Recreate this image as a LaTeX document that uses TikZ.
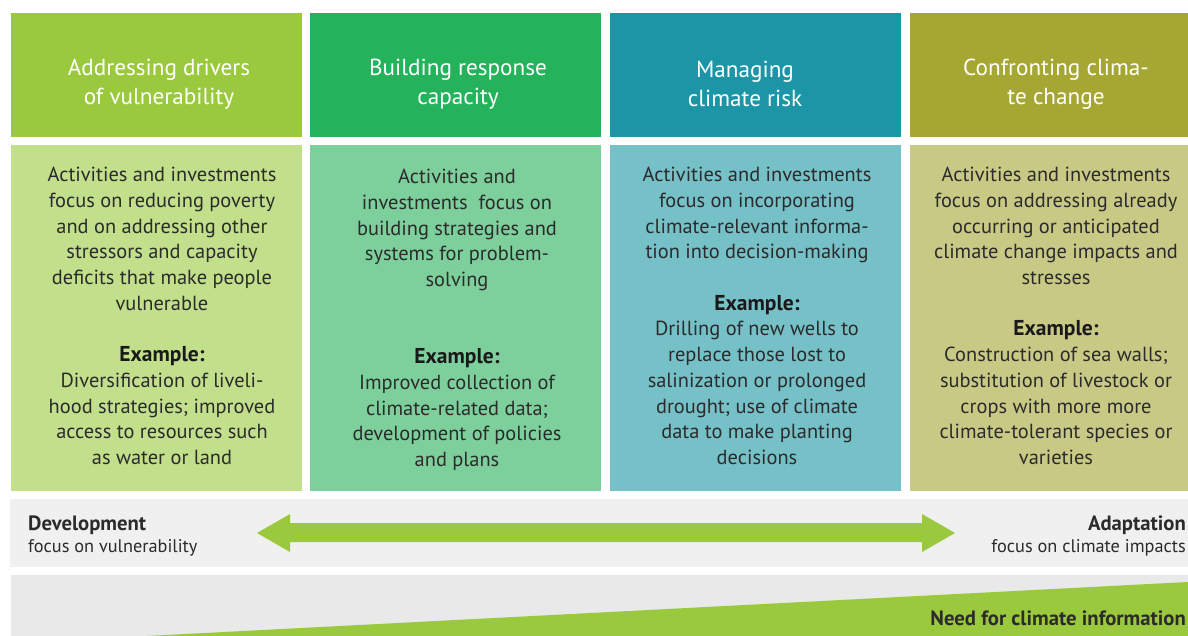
\documentclass[tikz,border=0pt]{standalone}
\usepackage{fontspec}
\setmainfont{PT Sans}
\definecolor{hA}{HTML}{9BC93E}
\definecolor{hB}{HTML}{24B25B}
\definecolor{hC}{HTML}{1C96A6}
\definecolor{hD}{HTML}{A6A733}
\definecolor{bA}{HTML}{C2DF8B}
\definecolor{bB}{HTML}{7DCF9C}
\definecolor{bC}{HTML}{76C0C8}
\definecolor{bD}{HTML}{C9C986}
\definecolor{bandA}{HTML}{F0F0F0}
\definecolor{bandB}{HTML}{E8E9E8}
\definecolor{ink}{HTML}{2B2B2B}
\definecolor{arrowgreen}{HTML}{9BC93E}
\newcommand{\exlabel}{{\fontsize{21.5}{25.7}\selectfont\bfseries\color{black!90}Example:}}
\begin{document}
\begin{tikzpicture}[x=1pt,y=-1pt,
  panel/.style={draw=none, inner sep=0pt, anchor=north west},
  headtext/.style={text=white, align=center, inner sep=0pt,
    font=\fontsize{23.2}{29}\selectfont},
  bodytext/.style={text=ink, align=center, inner sep=0pt,
    font=\fontsize{20.4}{25.7}\selectfont},
  sidehead/.style={text=ink, inner sep=0pt, font=\fontsize{20.7}{22}\selectfont\bfseries},
  sidesub/.style={text=ink, inner sep=0pt, font=\fontsize{18.3}{22}\selectfont}]
\useasboundingbox (0,0) rectangle (1188,636);
\fill[white] (0,0) rectangle (1188,636);

% header panels
\node[panel, fill=hA, minimum width=291pt, minimum height=123.5pt] (hpA) at (11,13) {};
\node[panel, fill=hB, minimum width=291pt, minimum height=123.5pt] (hpB) at (310,13) {};
\node[panel, fill=hC, minimum width=291pt, minimum height=123.5pt] (hpC) at (610,13) {};
\node[panel, fill=hD, minimum width=278pt, minimum height=123.5pt] (hpD) at (910,13) {};

% body panels
\node[panel, fill=bA, minimum width=291pt, minimum height=345.5pt] (bpA) at (11,145) {};
\node[panel, fill=bB, minimum width=291pt, minimum height=345.5pt] (bpB) at (310,145) {};
\node[panel, fill=bC, minimum width=291pt, minimum height=345.5pt] (bpC) at (610,145) {};
\node[panel, fill=bD, minimum width=278pt, minimum height=345.5pt] (bpD) at (910,145) {};

% header titles
\node[headtext] (tA) at (159,84.5) {Addressing drivers\\of vulnerability};
\node[headtext] (tB) at (458,84.5) {Building response\\capacity};
\node[headtext] (tC) at (745,83.5) {Managing\\climate risk};
\node[headtext] (tD) at (1056,84.5) {Confronting clima-\\te change};

% body texts
\node[bodytext] (xA) at (162,316) {Activities and investments\\focus on reducing poverty\\and on addressing other\\stressors and capacity\\deficits that make people\\vulnerable\\[25.7pt]
  \exlabel\\Diversification of liveli-\\hood strategies; improved\\access to resources such\\as water or land};
\node[bodytext] (xB) at (457,320) {Activities and\\investments\ \ focus on\\building strategies and\\systems for problem-\\solving\\[51.4pt]
  \exlabel\\Improved collection of\\climate-related data;\\development of policies\\and plans};
\node[bodytext] (xC) at (757,316) {Activities and investments\\focus on incorporating\\climate-relevant informa-\\tion into decision-making\\[25.7pt]
  \exlabel\\Drilling of new wells to\\replace those lost to\\salinization or prolonged\\drought; use of climate\\data to make planting\\decisions};
\node[bodytext] (xD) at (1056,316) {Activities and investments\\focus on addressing already\\occurring or anticipated\\climate change impacts and\\stresses\\[25.7pt]
  \exlabel\\Construction of sea walls;\\substitution of livestock or\\crops with more more\\climate-tolerant species or\\varieties};

% development / adaptation band
\node[panel, fill=bandA, minimum width=1178pt, minimum height=67.5pt] (band) at (10,499) {};
\node[sidehead, anchor=base west] (dev) at (28,530) {Development};
\node[sidesub, anchor=base west] (devsub) at (28,552.5) {focus on vulnerability};
\node[sidehead, anchor=base east] (ada) at (1186,530) {Adaptation};
\node[sidesub, anchor=base east] (adasub) at (1186,552.5) {focus on climate impacts};
\coordinate (tipL) at (257,533);
\coordinate (tipR) at (955,533);
\fill[arrowgreen] (tipL) -- (290,514) -- (290,523) -- (922,523) -- (922,514) -- (tipR)
  -- (922,552) -- (922,542) -- (290,542) -- (290,552) -- cycle;

% climate information band
\node[panel, fill=bandB, minimum width=1177pt, minimum height=61pt] (info) at (11,575) {};
\fill[arrowgreen] (147,636) -- (1188,582) -- (1188,636) -- cycle;
\node[sidehead, anchor=base east] (need) at (1186,625) {Need for climate information};
\end{tikzpicture}
\end{document}
